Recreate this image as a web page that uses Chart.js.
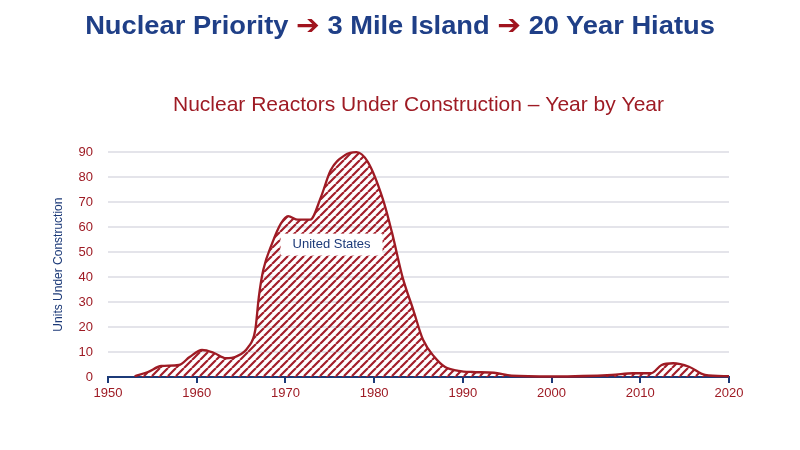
<!DOCTYPE html>
<html>
<head>
<meta charset="utf-8">
<script src="https://cdn.jsdelivr.net/npm/chart.js@4.4.0/dist/chart.umd.min.js"></script>
<style>
  html, body { margin: 0; padding: 0; background: #fff; }
  #wrap { position: relative; width: 800px; height: 450px; }
  #headline {
    position: absolute; top: 9px; left: 0; width: 800px; text-align: center;
    font: bold 26px "Liberation Sans", Arial, sans-serif; color: #1f3f87;
    transform: scaleX(1.05);
  }
  #headline .arrow { color: #a0141e; font-family: "DejaVu Sans", sans-serif; font-size: 27px; }
  canvas { position: absolute; left: 0; top: 0; }
</style>
</head>
<body>
<div id="wrap">
  <canvas id="chart" width="800" height="450"></canvas>
  <div id="headline">Nuclear Priority <span class="arrow">➔</span> 3 Mile Island <span class="arrow">➔</span> 20 Year Hiatus</div>
</div>
<script>
// values
const years = [1953, 1954.5, 1956, 1958, 1959.2, 1960.6, 1961.9, 1963.3, 1964.4, 1965.8,
  1966.6, 1967, 1967.5, 1968.5, 1969.5, 1970.3, 1971.4, 1972.8, 1974, 1975.1,
  1976.7, 1978, 1979.3, 1981, 1982, 1983.2, 1984.4, 1985.5, 1986.8, 1988,
  1989.5, 1991, 1993.5, 1995.5, 2000, 2006.8, 2009.2, 2011.2, 2012.4, 2013.7,
  2015.5, 2017.3, 2020];
const units = [0.3, 2, 4.4, 4.8, 8, 10.8, 9.7, 7.5, 8.1, 12,
  18.8, 32, 42.8, 53.5, 61.5, 64.4, 63, 63, 72, 82.8,
  88.8, 90, 86, 71, 58, 40, 27, 15, 8, 4,
  2.5, 2, 1.7, 0.5, 0.2, 0.8, 1.5, 1.5, 4.8, 5.5,
  4.1, 0.8, 0.3];
const xTicks = [1950, 1960, 1970, 1980, 1990, 2000, 2010, 2020];
const yTicks = [0, 10, 20, 30, 40, 50, 60, 70, 80, 90];

const RED = "#9e1b24";
const NAVY = "#1c3a78";
const FONT = "'Liberation Sans', Arial, sans-serif";

// diagonal hatching for the area fill
function makeHatch() {
  const size = 8;
  const c = document.createElement("canvas");
  c.width = size; c.height = size;
  const g = c.getContext("2d");
  g.strokeStyle = "#a31e2a";
  g.lineWidth = 2.2;
  g.beginPath();
  for (let k = -1; k <= 1; k++) {
    g.moveTo(k * size, size);
    g.lineTo(k * size + size, 0);
  }
  g.stroke();
  return g.createPattern(c, "repeat");
}

const usLabel = {
  id: "usLabel",
  afterDatasetsDraw(chart) {
    const { ctx, scales } = chart;
    const x = scales.x.getPixelForValue(1975.2);
    const y = scales.y.getPixelForValue(53);
    ctx.save();
    ctx.font = "13px " + FONT;
    const w = ctx.measureText("United States").width;
    ctx.fillStyle = "#fff";
    ctx.fillRect(x - w / 2 - 12, y - 11, w + 24, 22);
    ctx.fillStyle = NAVY;
    ctx.textAlign = "center";
    ctx.textBaseline = "middle";
    ctx.fillText("United States", x, y);
    ctx.restore();
  }
};

const ctx = document.getElementById("chart").getContext("2d");
new Chart(ctx, {
  type: "line",
  data: {
    datasets: [{
      label: "United States",
      data: years.map((yr, i) => ({ x: yr, y: units[i] })),
      borderColor: RED,
      borderWidth: 2.3,
      backgroundColor: makeHatch(),
      fill: "origin",
      pointRadius: 0,
      cubicInterpolationMode: "monotone",
      clip: false
    }]
  },
  options: {
    responsive: false,
    animation: false,
    layout: { padding: { top: 83, left: 48, right: 71, bottom: 43 } },
    plugins: {
      legend: { display: false },
      tooltip: { enabled: false },
      title: {
        display: true,
        fullSize: false,
        text: "Nuclear Reactors Under Construction – Year by Year",
        color: RED,
        font: { family: FONT, size: 21, weight: "normal" },
        padding: { top: 10, bottom: 34 }
      }
    },
    scales: {
      x: {
        type: "linear",
        min: 1950,
        max: 2020,
        afterBuildTicks: s => { s.ticks = xTicks.map(v => ({ value: v })); },
        afterFit: s => { s.height = 30; },
        grid: { drawOnChartArea: false, drawTicks: true, tickLength: 6, color: NAVY, lineWidth: 2 },
        border: { display: true, color: NAVY, width: 2 },
        ticks: { color: RED, font: { family: FONT, size: 13 }, padding: 3, callback: v => String(v) }
      },
      y: {
        min: 0,
        max: 90,
        afterBuildTicks: s => { s.ticks = yTicks.map(v => ({ value: v })); },
        afterFit: s => { s.width = 60; },
        grid: { color: "#e4e4ea", lineWidth: 2, drawTicks: false },
        border: { display: false },
        ticks: { color: RED, font: { family: FONT, size: 13 }, padding: 15 },
        title: {
          display: true,
          text: "Units Under Construction",
          color: NAVY,
          font: { family: FONT, size: 12 },
          padding: { top: 3, bottom: 0 }
        }
      }
    }
  },
  plugins: [usLabel]
});
</script>
</body>
</html>
